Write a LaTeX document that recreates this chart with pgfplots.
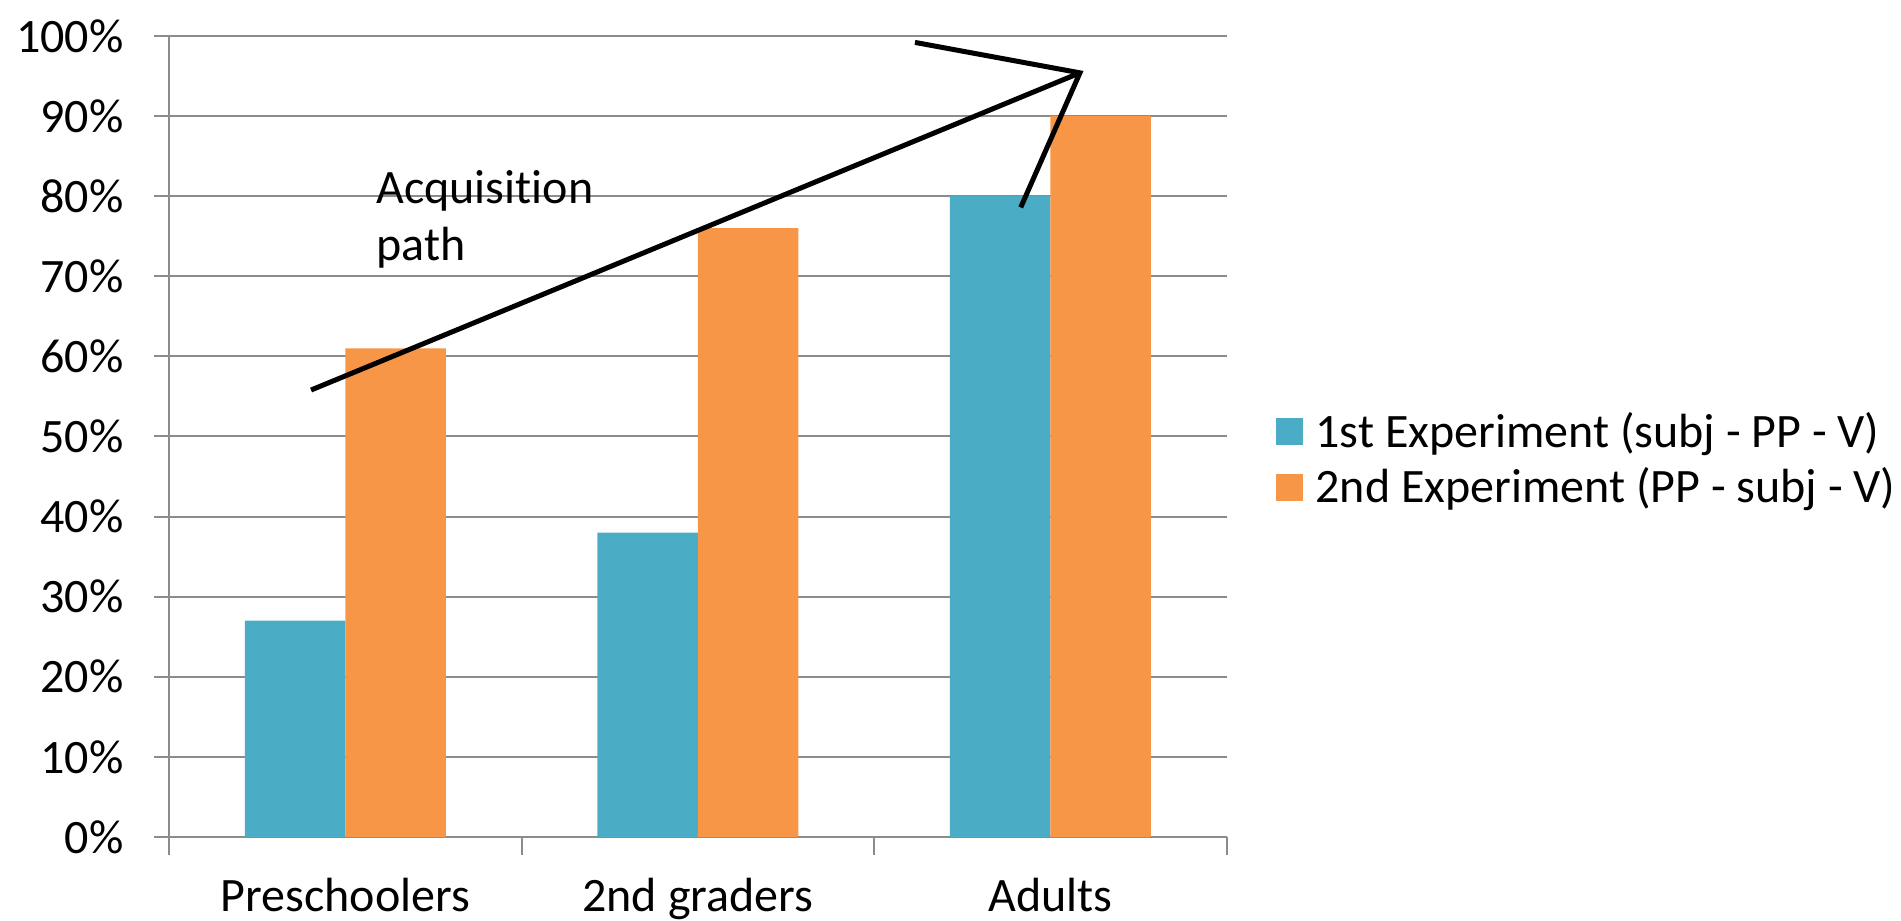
\documentclass[border=0pt]{standalone}
\usepackage{pgfplots}
\pgfplotsset{compat=1.18}
\usepackage{fontspec}
\setmainfont{Carlito}[Ligatures=NoCommon]
\definecolor{tealA}{HTML}{4BACC6}
\definecolor{orangeA}{HTML}{F79646}
\definecolor{gridgray}{HTML}{8C8C8C}
\newcommand{\bigf}{\fontsize{19.2}{23}\selectfont}
\begin{document}
\begin{tikzpicture}
\path[use as bounding box] (0,0) rectangle (760.4pt,-368.4pt);
\begin{axis}[
  at={(67.6pt,-334.8pt)}, anchor=south west,
  scale only axis, width=423.04pt, height=320.4pt,
  xmin=0, xmax=3, ymin=0, ymax=100,
  axis x line*=bottom, axis y line*=left,
  ybar=0pt, bar width=40.2pt,
  xtick={0.5,1.5,2.5}, xticklabels={Preschoolers,2nd graders,Adults},
  major x tick style={draw=none},
  minor xtick={0,1,2,3},
  tick align=outside,
  major tick length=6pt, minor tick length=7.2pt,
  ytick={0,10,...,100},
  yticklabel={\pgfmathprintnumber{\tick}\%},
  /pgf/number format/assume math mode=true,
  ymajorgrids, grid style={gridgray, line width=0.8pt},
  axis line style={gridgray, line width=0.8pt},
  tick style={gridgray, line width=0.8pt},
  every tick label/.append style={font=\bigf, text=black},
  xticklabel style={inner sep=0pt, anchor=north, yshift=-10.3pt},
  yticklabel style={inner sep=0pt, anchor=east, xshift=-12pt},
  legend image code/.code={\fill[#1] (0pt,-5.4pt) rectangle (10.8pt,5.4pt);},
  legend cell align=left,
  legend style={at={(1.0458,0.4713)}, anchor=west, draw=none, fill=none,
    font=\bigf, inner sep=0pt, column sep=5.2pt, row sep=6.5pt,
    nodes={inner sep=0pt}},
]
\addplot[fill=tealA, draw=none] coordinates {(0.5,27) (1.5,38) (2.5,80)};
\addplot[fill=orangeA, draw=none] coordinates {(0.5,61) (1.5,76) (2.5,90)};
\legend{1st Experiment (subj - PP - V), 2nd Experiment (PP - subj - V)}
\draw[black, line width=2pt] (axis cs:0.403,55.8) -- (axis cs:2.584,95.4);
\draw[black, line width=2pt] (axis cs:2.116,99.2) -- (axis cs:2.584,95.4) -- (axis cs:2.416,78.6);
\node[anchor=base west, inner sep=0pt, font=\bigf] at (axis cs:0.587,79.15) {Acquisition};
\node[anchor=base west, inner sep=0pt, font=\bigf] at (axis cs:0.587,72.0) {path};
\end{axis}
\end{tikzpicture}
\end{document}
